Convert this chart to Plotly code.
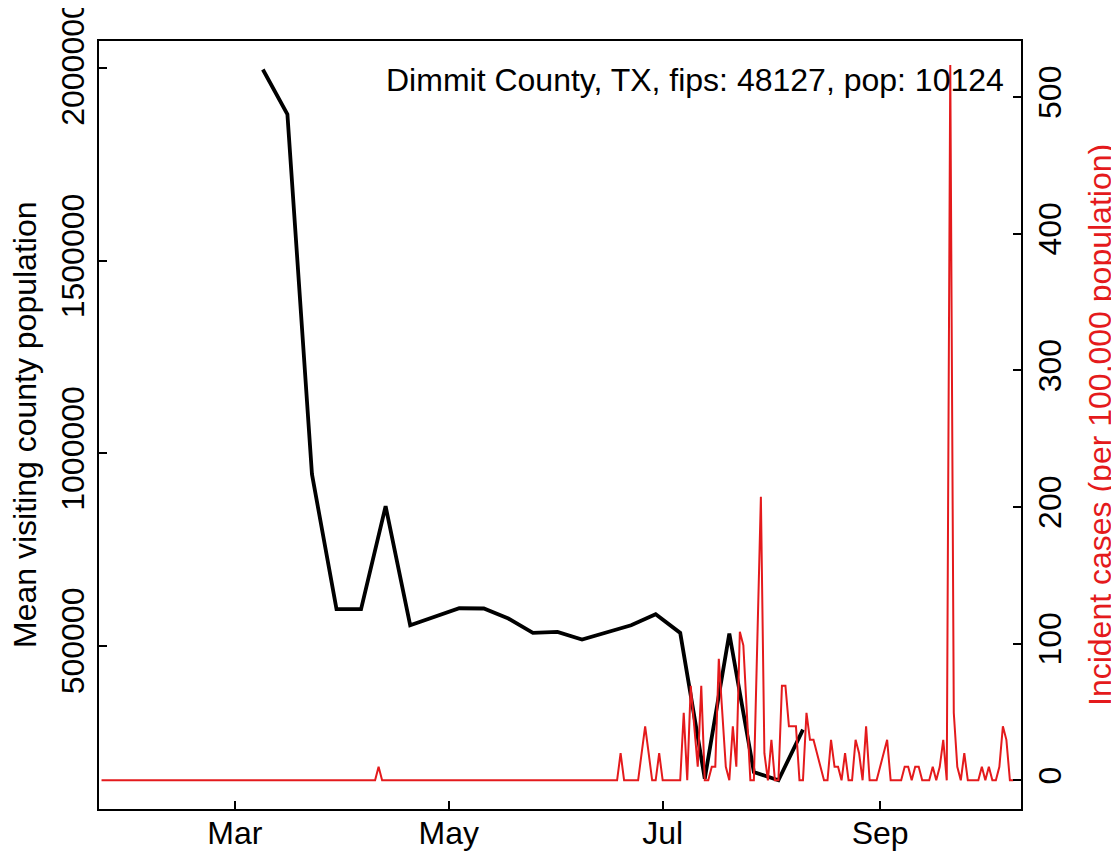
import pandas as pd
import plotly.graph_objects as go

# Mean visiting county population (weekly)
black_dates = pd.date_range("2020-03-09", periods=23, freq="7D")
black_vals = [1997000, 1880500, 945700, 594900, 594900, 862500, 553300, 574800,
              597400, 596700, 570700, 533300, 535900, 516100, 534300, 553300,
              581900, 533300, 154900, 531700, 172000, 150500, 282200]

# Incident cases per 100,000 (daily from 2020-01-23)
red_vals = [
    0, 0, 0, 0, 0, 0, 0, 0, 0, 0, 0, 0, 0, 0, 0, 0, 0, 0, 0, 0,
    0, 0, 0, 0, 0, 0, 0, 0, 0, 0, 0, 0, 0, 0, 0, 0, 0, 0, 0, 0,
    0, 0, 0, 0, 0, 0, 0, 0, 0, 0, 0, 0, 0, 0, 0, 0, 0, 0, 0, 0,
    0, 0, 0, 0, 0, 0, 0, 0, 0, 0, 0, 0, 0, 0, 0, 0, 0, 0, 0, 9.9,
    0, 0, 0, 0, 0, 0, 0, 0, 0, 0, 0, 0, 0, 0, 0, 0, 0, 0, 0, 0,
    0, 0, 0, 0, 0, 0, 0, 0, 0, 0, 0, 0, 0, 0, 0, 0, 0, 0, 0, 0,
    0, 0, 0, 0, 0, 0, 0, 0, 0, 0, 0, 0, 0, 0, 0, 0, 0, 0, 0, 0,
    0, 0, 0, 0, 0, 0, 0, 0,
    19.8, 0, 0, 0, 0, 0, 19.8, 39.5, 19.8, 0,
    0, 19.8, 0, 0, 0, 0, 0, 0, 49.4, 0,
    69.1, 39.5, 9.9, 69.1, 0, 0, 9.9, 9.9, 88.9, 49.4,
    9.9, 0, 39.5, 9.9, 108.7, 98.8, 49.4, 0, 0, 98.8,
    207.4, 19.8, 0, 29.6, 0, 0, 69.1, 69.1, 39.5, 39.5,
    39.5, 0, 0, 49.4, 29.6, 29.6, 19.8, 9.9, 0, 0,
    29.6, 9.9, 9.9, 0, 19.8, 0, 0, 29.6, 19.8, 0,
    39.5, 0, 0, 0, 9.9, 19.8, 29.6, 0, 0, 0,
    0, 9.9, 9.9, 0, 9.9, 9.9, 0, 0, 0, 9.9,
    0, 9.9, 29.6, 0, 523.5, 49.4, 9.9, 0, 19.8, 0,
    0, 0, 0, 9.9, 0, 9.9, 0, 0, 9.9, 39.5,
    29.6, 0, 0,
]
red_dates = pd.date_range("2020-01-23", periods=len(red_vals), freq="D")

x_tick_vals = ["2020-03-01", "2020-05-01", "2020-07-01", "2020-09-01"]
x_tick_text = ["Mar", "May", "Jul", "Sep"]
y_tick_vals = [500000, 1000000, 1500000, 2000000]
y_tick_text = ["500000", "1000000", "1500000", "2000000"]
y2_tick_vals = [0, 100, 200, 300, 400, 500]

title_text = "Dimmit County, TX, fips: 48127, pop: 10124"
RED = "#E41A1C"
FONT = "Liberation Sans, Arial, Helvetica, sans-serif"
FS = 32

fig = go.Figure()
fig.add_trace(go.Scatter(x=black_dates, y=black_vals, mode="lines",
                         line=dict(color="black", width=3.8), yaxis="y",
                         showlegend=False))
fig.add_trace(go.Scatter(x=red_dates, y=red_vals, mode="lines",
                         line=dict(color=RED, width=2), yaxis="y2",
                         showlegend=False))

axis_common = dict(showgrid=False, zeroline=False, ticks="inside", ticklen=8,
                   tickwidth=1.5, tickcolor="black", showline=True,
                   linecolor="black", linewidth=2, automargin=False,
                   ticklabeloverflow="allow",
                   tickfont=dict(size=FS, color="black"))

# page body has an 8px margin, so the figure is shrunk by 8px and offset
fig.update_layout(
    width=1111, height=846,
    margin=dict(l=91, r=98, t=33, b=45, pad=0),
    plot_bgcolor="white", paper_bgcolor="white",
    font=dict(family=FONT, size=FS, color="black"),
    showlegend=False,
    xaxis=dict(type="date", range=["2020-01-22 06:40", "2020-10-11 04:00"],
               tickvals=x_tick_vals, ticktext=x_tick_text, mirror=True,
               ticklabelstandoff=-5, **axis_common),
    yaxis=dict(range=[75884, 2070946], tickvals=y_tick_vals,
               ticktext=y_tick_text, tickangle=-90, mirror=True,
               **axis_common),
    yaxis2=dict(range=[-21.0, 541.0], tickvals=y2_tick_vals, tickangle=-90,
                overlaying="y", side="right", **axis_common),
    annotations=[
        dict(text=title_text, xref="paper", yref="paper",
             x=(1006 - 99) / 922, y=1 - (80 - 41) / 768,
             xanchor="right", yanchor="middle", showarrow=False,
             font=dict(size=FS, color="black")),
        dict(text="Mean visiting county population", xref="paper", yref="paper",
             x=(25 - 99) / 922, y=0.5, textangle=-90, xanchor="center",
             yanchor="middle", showarrow=False, font=dict(size=FS, color="black")),
        dict(text="Incident cases (per 100,000 population)", xref="paper",
             yref="paper", x=(1100 - 99) / 922, y=0.5, textangle=-90,
             xanchor="center", yanchor="middle", showarrow=False,
             font=dict(size=FS, color=RED)),
    ],
)

fig.write_html("out.html")
